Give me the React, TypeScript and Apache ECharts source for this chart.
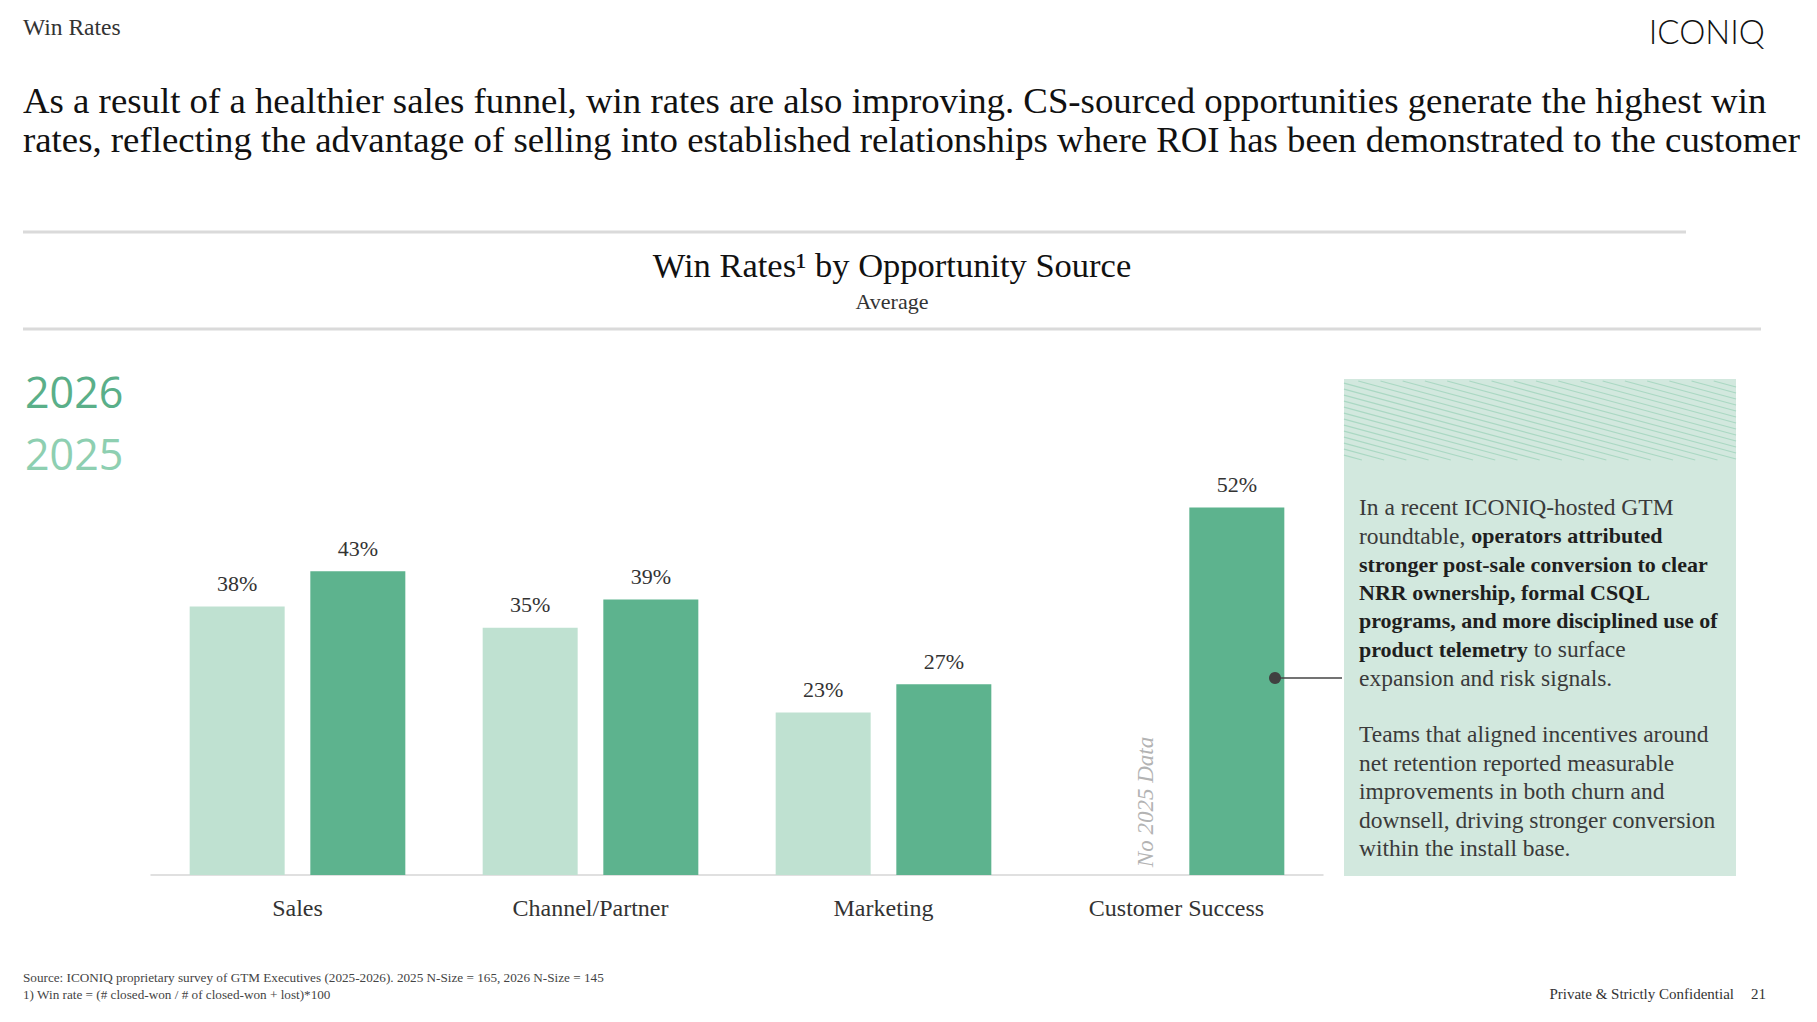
import React, { useEffect, useRef } from "react";
import * as echarts from "echarts";

const categories = ["Sales", "Channel/Partner", "Marketing", "Customer Success"];
const seriesNames = ["2025", "2026"];
const values2025: (number | null)[] = [38, 35, 23, null];
const values2026: (number | null)[] = [43, 39, 27, 52];
const yMax = 60;

const pageLabel = "Win Rates";
const headlineLines = [
  "As a result of a healthier sales funnel, win rates are also improving. CS-sourced opportunities generate the highest win",
  "rates, reflecting the advantage of selling into established relationships where ROI has been demonstrated to the customer",
];
const chartTitle = "Win Rates¹ by Opportunity Source";
const chartSubtitle = "Average";
const noDataNote = "No 2025 Data";
const calloutText = [
  "In a recent ICONIQ-hosted GTM",
  "roundtable, {b|operators attributed}",
  "{b|stronger post-sale conversion to clear}",
  "{b|NRR ownership, formal CSQL}",
  "{b|programs, and more disciplined use of}",
  "{b|product telemetry} to surface",
  "expansion and risk signals.",
  "",
  "Teams that aligned incentives around",
  "net retention reported measurable",
  "improvements in both churn and",
  "downsell, driving stronger conversion",
  "within the install base.",
];
const footnotes = [
  "Source: ICONIQ proprietary survey of GTM Executives (2025-2026). 2025 N-Size = 165, 2026 N-Size = 145",
  "1) Win rate = (# closed-won / # of closed-won + lost)*100",
];
const confidential = "Private & Strictly Confidential";
const pageNumber = "21";

const SERIF = '"Liberation Serif", "DejaVu Serif", serif';
const SANS = '"Open Sans", "Noto Sans", sans-serif';
const C2025 = "#bfe1d1";
const C2026 = "#5db38e";

function hatchLines(bx: number, by: number, bw: number, bh: number) {
  const s = 0.27;
  const out: any[] = [];
  for (let c = by - bw * s; c < by + bh; c += 6) {
    const xa = Math.max(bx, bx + (by - c) / s);
    const xb = Math.min(bx + bw, bx + (by + bh - c) / s);
    if (xb - xa < 2) continue;
    out.push({
      type: "line",
      silent: true,
      shape: { x1: xa, y1: c + s * (xa - bx), x2: xb, y2: c + s * (xb - bx) },
      style: { stroke: "#aad8c3", lineWidth: 1.2 },
    });
  }
  return out;
}

export default function App() {
  const ref = useRef<HTMLDivElement>(null);
  useEffect(() => {
    if (!ref.current) return;
    const chart = echarts.init(ref.current, null, { renderer: "svg" });
    const labelFmt = (p: any) => (p.value == null ? "" : `${p.value}%`);
    const option: any = {
      animation: false,
      backgroundColor: "#ffffff",
      grid: { left: 151, right: 494, bottom: 147, top: 451, containLabel: false },
      xAxis: {
        type: "category",
        data: categories,
        axisLine: { lineStyle: { color: "#d6d6d6", width: 1.5 } },
        axisTick: { show: false },
        axisLabel: { fontFamily: SERIF, fontSize: 24, color: "#333333", margin: 21 },
      },
      yAxis: { type: "value", min: 0, max: yMax, show: false, splitLine: { show: false } },
      series: [
        {
          name: seriesNames[0],
          type: "bar",
          data: values2025,
          barWidth: 95,
          barGap: "27%",
          itemStyle: { color: C2025 },
          label: { show: true, position: "top", distance: 12, formatter: labelFmt, fontFamily: SERIF, fontSize: 22, color: "#333333" },
        },
        {
          name: seriesNames[1],
          type: "bar",
          data: values2026,
          barWidth: 95,
          barGap: "27%",
          itemStyle: { color: C2026 },
          label: { show: true, position: "top", distance: 12, formatter: labelFmt, fontFamily: SERIF, fontSize: 22, color: "#333333" },
        },
      ],
      graphic: [
        { type: "text", x: 23, y: 27, style: { text: pageLabel, fontFamily: SERIF, fontSize: 23.5, fill: "#333333", verticalAlign: "middle" } },
        { type: "text", x: 1765, y: 31, style: { text: "ICONIQ", fontFamily: '"Lato", sans-serif', fontWeight: 300, fontSize: 33, fill: "#111111", align: "right", verticalAlign: "middle" } },
        { type: "text", x: 23, y: 100, style: { text: headlineLines[0], fontFamily: SERIF, fontSize: 36.8, fill: "#111111", verticalAlign: "middle" } },
        { type: "text", x: 23, y: 139, style: { text: headlineLines[1], fontFamily: SERIF, fontSize: 36.8, fill: "#111111", verticalAlign: "middle" } },
        { type: "line", shape: { x1: 23, y1: 232, x2: 1686, y2: 232 }, style: { stroke: "#dadada", lineWidth: 3 } },
        { type: "line", shape: { x1: 23, y1: 329, x2: 1761, y2: 329 }, style: { stroke: "#dadada", lineWidth: 3 } },
        { type: "text", x: 892, y: 265, style: { text: chartTitle, fontFamily: SERIF, fontSize: 34.5, fill: "#111111", align: "center", verticalAlign: "middle" } },
        { type: "text", x: 892, y: 301, style: { text: chartSubtitle, fontFamily: SERIF, fontSize: 22, fill: "#333333", align: "center", verticalAlign: "middle" } },
        { type: "text", x: 25, y: 391, style: { text: seriesNames[1], fontFamily: SANS, fontSize: 43, fill: "#5aaf89", verticalAlign: "middle" } },
        { type: "text", x: 25, y: 453, style: { text: seriesNames[0], fontFamily: SANS, fontSize: 43, fill: "#8ecfb1", verticalAlign: "middle" } },
        { type: "rect", shape: { x: 1344, y: 379, width: 392, height: 497 }, style: { fill: "#d2e8de" } },
        ...hatchLines(1344, 381, 392, 79),
        {
          type: "text",
          x: 1359,
          y: 493,
          style: {
            text: calloutText.join("\n"),
            fontFamily: SERIF,
            fontSize: 23.5,
            fill: "#3a3a3a",
            lineHeight: 28.4,
            verticalAlign: "top",
            rich: {
              b: { fontFamily: SERIF, fontSize: 22, fontWeight: "bold", fill: "#1e1e1e", lineHeight: 28.4 },
            },
          },
        },
        { type: "line", z: 100, shape: { x1: 1275, y1: 678, x2: 1342, y2: 678 }, style: { stroke: "#444444", lineWidth: 1.5 } },
        { type: "circle", z: 100, shape: { cx: 1275, cy: 678, r: 6 }, style: { fill: "#404040" } },
        { type: "text", x: 1145, y: 802, rotation: Math.PI / 2, style: { text: noDataNote, fontFamily: SERIF, fontStyle: "italic", fontSize: 23, fill: "#b3b3b3", align: "center", verticalAlign: "middle" } },
        { type: "text", x: 23, y: 977, style: { text: footnotes[0], fontFamily: SERIF, fontSize: 13.2, fill: "#444444", verticalAlign: "middle" } },
        { type: "text", x: 23, y: 994, style: { text: footnotes[1], fontFamily: SERIF, fontSize: 13.2, fill: "#444444", verticalAlign: "middle" } },
        { type: "text", x: 1734, y: 994, style: { text: confidential, fontFamily: SERIF, fontSize: 15, fill: "#333333", align: "right", verticalAlign: "middle" } },
        { type: "text", x: 1766, y: 994, style: { text: pageNumber, fontFamily: SERIF, fontSize: 15, fill: "#333333", align: "right", verticalAlign: "middle" } },
      ],
    };
    chart.setOption(option);
    return () => chart.dispose();
  }, []);
  return <div ref={ref} style={{ position: "absolute", left: 0, top: 0, width: 1817, height: 1022, background: "#fff" }} />;
}
